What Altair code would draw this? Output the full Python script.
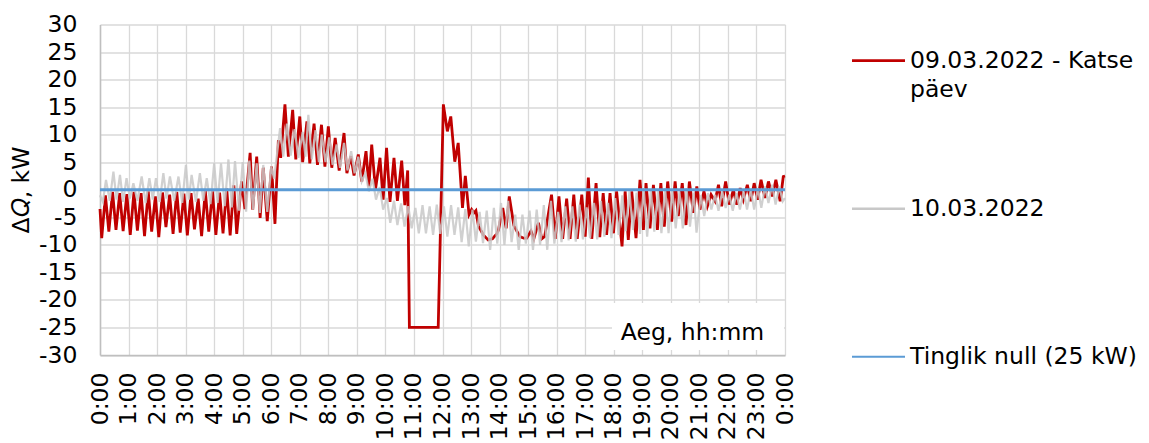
import json
import altair as alt
import pandas as pd

# ---------------- data ----------------
red_hours = [0.00, 0.06, 0.19, 0.31, 0.44, 0.56, 0.69, 0.81, 0.94, 1.06, 1.19, 1.31, 1.44, 1.56, 1.69, 1.81, 1.94,
             2.06, 2.19, 2.31, 2.44, 2.56, 2.69, 2.81, 2.94, 3.06, 3.19, 3.31, 3.44, 3.56, 3.69, 3.81, 3.94,
             4.06, 4.19, 4.31, 4.44, 4.56, 4.69, 4.79, 4.96, 5.08, 5.26, 5.35, 5.49, 5.61, 5.72, 5.86, 6.01,
             6.13, 6.25, 6.33, 6.48, 6.60, 6.75, 6.86, 7.00, 7.10, 7.25, 7.35, 7.50, 7.62, 7.76, 7.88, 8.00,
             8.12, 8.24, 8.38, 8.55, 8.65, 8.79, 8.90, 9.05, 9.17, 9.32, 9.42, 9.52, 9.65, 9.81, 9.92, 10.04,
             10.16, 10.30, 10.42, 10.57, 10.68, 10.78, 10.84, 11.85, 12.03, 12.17, 12.29, 12.43, 12.55, 12.70,
             12.80, 12.93, 13.02, 13.10, 13.17, 13.26, 13.43, 13.60, 13.75, 13.90, 13.96, 14.11, 14.23, 14.34,
             14.50, 14.71, 14.85, 14.95, 15.10, 15.20, 15.36, 15.48, 15.58, 15.82, 15.95, 16.08, 16.21, 16.35,
             16.47, 16.60, 16.72, 16.88, 17.00, 17.11, 17.23, 17.38, 17.51, 17.63, 17.75, 17.87, 17.99, 18.10,
             18.29, 18.40, 18.51, 18.63, 18.78, 18.92, 19.04, 19.13, 19.27, 19.39, 19.53, 19.65, 19.77, 19.89,
             20.03, 20.15, 20.26, 20.40, 20.53, 20.65, 20.79, 20.91, 21.02, 21.16, 21.28, 21.41, 21.55, 21.67,
             21.78, 21.92, 22.05, 22.19, 22.31, 22.43, 22.54, 22.68, 22.80, 22.92, 23.04, 23.16, 23.30, 23.42,
             23.56, 23.68, 23.83, 23.94, 24.00]
red_kw = [-3.5, -8.8, -1.0, -7.6, -0.4, -7.3, -0.6, -7.5, -0.8, -8.2, -0.4, -7.4, -0.6, -8.4, -0.3, -7.6, -1.2,
          -8.6, -0.5, -6.8, -0.9, -8.0, -0.4, -7.8, -0.7, -8.3, -0.6, -7.2, -1.6, -8.4, -0.2, -7.6, -0.3,
          -8.2, -0.5, -7.9, 0.2, -8.3, 0.8, -8.0, 1.5, -3.5, 6.7, -3.6, 6.0, -5.1, 4.0, -5.7, 4.2,
          -6.2, 9.0, 5.8, 15.5, 6.0, 14.5, 5.5, 13.3, 5.0, 12.4, 4.8, 12.0, 4.5, 11.8, 4.2, 11.5,
          4.0, 9.4, 3.5, 10.3, 3.0, 6.1, 2.6, 6.4, 1.5, 7.0, 0.6, 8.2, 0.0, 5.8, -1.8, 7.6,
          -2.2, 5.8, -2.0, 5.3, -2.8, 3.5, -25.0, -25.0, 15.5, 10.6, 13.3, 5.1, 8.5, -3.3,
          2.5, -4.5, -3.6, -4.2, -3.8, -6.6, -8.2, -9.1, -8.9, -8.0, -7.3, -3.3, -7.0, -1.2,
          -6.5, -8.5, -8.8, -8.8, -7.5, -8.9, -6.0, -8.9, -8.5, -0.9, -8.9, -1.2, -8.9, -1.6,
          -8.9, -0.9, -8.9, -0.9, -8.5, 2.2, -8.9, 1.2, -8.6, -0.6, -8.2, -0.6, -7.9, -0.3,
          -10.3, -0.3, -9.1, -0.3, -8.8, 1.8, -7.3, 1.2, -7.0, 0.9, -7.3, 1.2, -6.7, 1.5,
          -5.8, 1.5, -4.8, 1.2, -6.4, 1.5, -4.2, 0.6, -3.6, -0.3, -3.0, -0.9, -2.1, 0.9,
          -3.0, 1.5, -2.7, 0.0, -2.7, 0.3, -1.8, 0.9, -2.1, 1.2, -1.8, 1.8, -1.5, 1.5,
          -1.2, 1.8, -2.1, 2.4, 2.5]

gray_hours = [0.00, 0.10, 0.21, 0.34, 0.47, 0.58, 0.70, 0.81, 0.93, 1.05, 1.17, 1.31, 1.46, 1.60, 1.73, 1.85, 1.96,
              2.09, 2.22, 2.33, 2.45, 2.60, 2.75, 2.88, 3.01, 3.11, 3.21, 3.36, 3.50, 3.62, 3.74, 3.87, 4.00,
              4.12, 4.24, 4.37, 4.50, 4.62, 4.73, 4.87, 5.00, 5.12, 5.23, 5.36, 5.49, 5.60, 5.72, 5.86, 6.00,
              6.10, 6.31, 6.42, 6.55, 6.68, 6.82, 6.95, 7.10, 7.20, 7.30, 7.42, 7.55, 7.67, 7.77, 7.90, 8.03,
              8.15, 8.29, 8.41, 8.55, 8.67, 8.80, 8.92, 9.05, 9.17, 9.30, 9.42, 9.55, 9.67, 9.80, 9.92, 10.05,
              10.17, 10.30, 10.42, 10.55, 10.67, 10.80, 10.92, 11.05, 11.17, 11.30, 11.42, 11.55, 11.67, 11.80,
              11.92, 12.05, 12.17, 12.30, 12.42, 12.55, 12.67, 12.80, 12.92, 13.05, 13.17, 13.30, 13.42, 13.55,
              13.67, 13.80, 13.92, 14.05, 14.17, 14.30, 14.42, 14.55, 14.67, 14.80, 14.92, 15.05, 15.17, 15.30,
              15.42, 15.55, 15.67, 15.80, 15.92, 16.05, 16.17, 16.30, 16.42, 16.55, 16.67, 16.80, 16.92, 17.05,
              17.17, 17.30, 17.42, 17.55, 17.67, 17.80, 17.92, 18.05, 18.17, 18.30, 18.42, 18.55, 18.67, 18.80,
              18.92, 19.05, 19.17, 19.30, 19.42, 19.55, 19.67, 19.80, 19.92, 20.05, 20.17, 20.30, 20.42, 20.55,
              20.67, 20.80, 20.90, 21.05, 21.17, 21.30, 21.42, 21.55, 21.67, 21.80, 21.92, 22.05, 22.17, 22.30,
              22.42, 22.55, 22.67, 22.80, 22.92, 23.05, 23.17, 23.30, 23.42, 23.55, 23.67, 23.80, 23.92, 24.00]
gray_kw = [-1.0, -2.2, 1.8, -2.0, 3.3, -1.8, 2.7, -2.2, 2.1, -1.6, 1.2, -2.0, 2.4, -2.4, 2.1, -1.8, 2.1,
           -2.2, 3.0, -1.6, 2.4, -2.0, 2.4, -2.4, 4.5, -1.8, 2.7, -2.2, 3.0, -2.0, 2.1, -2.6, 4.8,
           -2.4, 4.8, -3.0, 5.5, -3.2, 5.2, -3.8, 5.0, -4.0, 5.3, -3.6, 4.8, -4.2, 4.5, -4.0, 4.2,
           2.0, 11.2, 6.0, 12.0, 6.2, 11.0, 5.8, 10.5, 6.0, 13.6, 5.5, 10.8, 5.0, 10.0, 5.0, 9.5,
           4.5, 8.2, 4.0, 8.5, 3.5, 7.0, 3.0, 6.0, 1.5, 3.0, -0.3, 2.0, -1.8, 0.5, -3.6, -1.5,
           -6.0, -2.0, -6.4, -2.5, -6.7, -3.0, -7.0, -3.3, -7.9, -2.8, -7.9, -3.0, -8.2, -2.7,
           -8.0, -3.0, -8.5, -2.8, -8.2, -3.2, -9.5, -3.5, -10.3, -3.6, -9.4, -4.0, -9.7, -3.8,
           -10.9, -3.3, -9.8, -2.4, -10.0, -2.0, -9.5, -4.5, -10.9, -4.5, -9.8, -3.8, -10.9, -3.6,
           -10.0, -2.8, -10.9, -2.0, -9.8, -4.0, -9.5, -3.0, -9.2, -3.0, -9.4, -2.7, -9.0, -3.2,
           -8.8, -2.4, -9.0, -2.0, -8.5, -2.4, -8.8, -1.5, -8.2, -1.0, -7.5, -0.3, -7.3, -0.5,
           -8.0, 0.3, -8.5, 0.0, -7.6, -0.3, -7.9, 0.3, -7.9, 0.0, -7.0, -0.3, -7.0, 0.3,
           -6.7, -0.5, -7.8, -1.0, -4.8, -0.6, -3.6, -0.9, -3.8, -0.3, -3.3, -0.9, -3.8, -0.6,
           -3.6, -0.3, -3.6, 0.0, -3.6, 0.3, -3.3, 0.6, -2.4, 0.9, -2.7, 0.6, -2.1, -1.5]

zero_hours = [0, 24]
zero_kw = [0, 0]

x_tick_values = list(range(25))
x_tick_labels = ["0:00", "1:00", "2:00", "3:00", "4:00", "5:00", "6:00", "7:00", "8:00", "9:00",
                 "10:00", "11:00", "12:00", "13:00", "14:00", "15:00", "16:00", "17:00", "18:00",
                 "19:00", "20:00", "21:00", "22:00", "23:00", "0:00"]
y_tick_values = [-30, -25, -20, -15, -10, -5, 0, 5, 10, 15, 20, 25, 30]
y_tick_labels = ["-30", "-25", "-20", "-15", "-10", "-5", "0", "5", "10", "15", "20", "25", "30"]

legend_rows = [0, 1, 2]
legend_labels = ["09.03.2022 - Katse\npäev", "10.03.2022", "Tinglik null (25 kW)"]
legend_colors = ["#c00000", "#c8c8c8", "#5b9bd5"]
legend_widths = [2.8, 2, 3]

FONT = "DejaVu Sans"
FS = 23.5
TXT = "#000000"

red_df = pd.DataFrame({"t": red_hours, "v": red_kw})
gray_df = pd.DataFrame({"t": gray_hours, "v": gray_kw})
zero_df = pd.DataFrame({"t": zero_hours, "v": zero_kw})
legend_df = pd.DataFrame({"row": legend_rows, "label": legend_labels})
one_row = pd.DataFrame({"txt": ["Aeg, hh:mm"]})

x_axis = alt.Axis(
    values=x_tick_values,
    labelExpr=json.dumps(x_tick_labels) + "[datum.value]",
    labelAngle=270,
    labelFontSize=FS,
    labelFont=FONT,
    labelColor=TXT,
    labelPadding=17,
    labelFlush=False,
    labelOverlap=False,
    ticks=False,
    grid=True,
    gridColor="#d9d9d9",
    gridWidth=1.3,
    domainColor="#bfbfbf",
    domainWidth=1.3,
    title=None,
)
y_axis = alt.Axis(
    values=y_tick_values,
    labelExpr=json.dumps(y_tick_labels) + "[(datum.value + 30) / 5]",
    labelFontSize=FS,
    labelFont=FONT,
    labelColor=TXT,
    labelPadding=23,
    labelFlush=False,
    labelOverlap=False,
    ticks=False,
    grid=True,
    gridColor="#d9d9d9",
    gridWidth=1.3,
    domainColor="#bfbfbf",
    domainWidth=1.5,
    title="Δ𝑄, kW",
    titleFont=FONT,
    titleFontSize=FS,
    titleFontWeight="normal",
    titleColor=TXT,
    titleX=-79,
    titleY=165,
    titleBaseline="middle",
)
x_scale = alt.Scale(domain=[0, 24], nice=False, zero=False)
y_scale = alt.Scale(domain=[-30, 30], nice=False)


def xy():
    return dict(
        x=alt.X("t:Q", scale=x_scale, axis=x_axis),
        y=alt.Y("v:Q", scale=y_scale, axis=y_axis),
    )


red_line = alt.Chart(red_df).mark_line(color="#c00000", strokeWidth=2.8).encode(**xy())
gray_line = alt.Chart(gray_df).mark_line(color="#c8c8c8", strokeWidth=2.2, opacity=0.85).encode(**xy())
zero_line = alt.Chart(zero_df).mark_line(color="#5b9bd5", strokeWidth=3).encode(**xy())
main = alt.layer(red_line, gray_line, zero_line)

box = alt.Chart(one_row).mark_rect(color="white").encode(
    x=alt.value(512), x2=alt.value(684), y=alt.value(278.5), y2=alt.value(325.5)
)
box_text = alt.Chart(one_row).mark_text(
    fontSize=FS, font=FONT, color=TXT, align="center", baseline="alphabetic"
).encode(x=alt.value(592.5), y=alt.value(315.5), text="txt:N")

leg_y = alt.Y("row:Q", scale=alt.Scale(domain=[0, 2], range=[36.2, 332.2], nice=False, zero=False), axis=None)
leg_rule = alt.Chart(legend_df).mark_rule().encode(
    x=alt.value(752),
    x2=alt.value(805),
    y=leg_y,
    color=alt.Color("row:N", scale=alt.Scale(domain=legend_rows, range=legend_colors), legend=None),
    strokeWidth=alt.StrokeWidth("row:N", scale=alt.Scale(domain=legend_rows, range=legend_widths), legend=None),
)
leg_text = alt.Chart(legend_df).mark_text(
    align="left", baseline="middle", fontSize=FS, font=FONT, color=TXT, lineBreak="\n", lineHeight=29.5
).encode(x=alt.value(810), y=leg_y, text="label:N")
legend = alt.layer(leg_rule, leg_text)

chart = (
    alt.layer(main, box, box_text, legend)
    .resolve_scale(y="independent")
    .properties(
        width=685,
        height=330.5,
        autosize=alt.AutoSizeParams(type="none"),
        padding={"left": 100, "top": 24.5, "right": 364, "bottom": 88},
        background="white",
    )
    .configure(font=FONT)
    .configure_view(stroke=None)
)

chart.save("out.html", embed_options={"renderer": "svg", "actions": False})
